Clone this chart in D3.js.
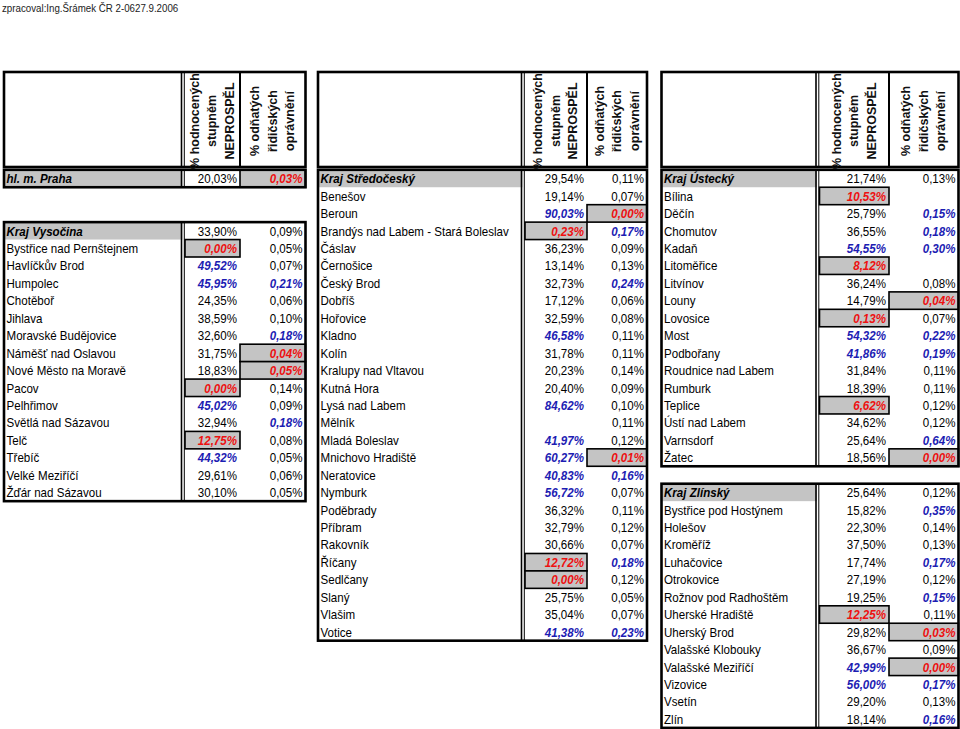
<!DOCTYPE html>
<html>
<head>
<meta charset="utf-8">
<script src="https://cdn.jsdelivr.net/npm/d3@7"></script>
<style>
  html, body { margin: 0; padding: 0; background: #fff; }
  svg { display: block; font-family: "Liberation Sans", Arial, sans-serif; }
</style>
</head>
<body>
<svg id="chart" width="960" height="729"></svg>
<script>
// ---------------- DATA ----------------
const note = "zpracoval:Ing.Šrámek ČR 2-0627.9.2006";
const headerCol1 = ["% hodnocených", "stupněm", "NEPROSPĚL"];
const headerCol2 = ["% odňatých", "řidičských", "oprávnění"];

const regions = ["hl. m. Praha", "Kraj Vysočina", "Kraj Středočeský", "Kraj Ústecký", "Kraj Zlínský"];
const regionP1 = [20.03, 33.90, 29.54, 21.74, 25.64];
const regionP2 = [0.03, 0.09, 0.11, 0.13, 0.12];
const regionFlag1 = ["", "", "", "", ""];
const regionFlag2 = ["L", "", "", "", ""];

const vysocinaCities = ["Bystřice nad Pernštejnem", "Havlíčkův Brod", "Humpolec", "Chotěboř", "Jihlava",
  "Moravské Budějovice", "Náměšť nad Oslavou", "Nové Město na Moravě", "Pacov", "Pelhřimov",
  "Světlá nad Sázavou", "Telč", "Třebíč", "Velké Meziříčí", "Žďár nad Sázavou"];
const vysocinaP1 = [0.00, 49.52, 45.95, 24.35, 38.59, 32.60, 31.75, 18.83, 0.00, 45.02, 32.94, 12.75, 44.32, 29.61, 30.10];
const vysocinaP2 = [0.05, 0.07, 0.21, 0.06, 0.10, 0.18, 0.04, 0.05, 0.14, 0.09, 0.18, 0.08, 0.05, 0.06, 0.05];
const vysocinaFlag1 = ["L", "H", "H", "", "", "", "", "", "L", "H", "", "L", "H", "", ""];
const vysocinaFlag2 = ["", "", "H", "", "", "H", "L", "L", "", "", "H", "", "", "", ""];

const stredoceskyCities = ["Benešov", "Beroun", "Brandýs nad Labem - Stará Boleslav", "Čáslav", "Černošice",
  "Český Brod", "Dobříš", "Hořovice", "Kladno", "Kolín", "Kralupy nad Vltavou", "Kutná Hora",
  "Lysá nad Labem", "Mělník", "Mladá Boleslav", "Mnichovo Hradiště", "Neratovice", "Nymburk",
  "Poděbrady", "Příbram", "Rakovník", "Říčany", "Sedlčany", "Slaný", "Vlašim", "Votice"];
const stredoceskyP1 = [19.14, 90.03, 0.23, 36.23, 13.14, 32.73, 17.12, 32.59, 46.58, 31.78, 20.23, 20.40,
  84.62, null, 41.97, 60.27, 40.83, 56.72, 36.32, 32.79, 30.66, 12.72, 0.00, 25.75, 35.04, 41.38];
const stredoceskyP2 = [0.07, 0.00, 0.17, 0.09, 0.13, 0.24, 0.06, 0.08, 0.11, 0.11, 0.14, 0.09,
  0.10, 0.11, 0.12, 0.01, 0.16, 0.07, 0.11, 0.12, 0.07, 0.18, 0.12, 0.05, 0.07, 0.23];
const stredoceskyFlag1 = ["", "H", "L", "", "", "", "", "", "H", "", "", "", "H", "", "H", "H", "H", "H", "", "", "", "L", "L", "", "", "H"];
const stredoceskyFlag2 = ["", "L", "H", "", "", "H", "", "", "", "", "", "", "", "", "", "L", "H", "", "", "", "", "H", "", "", "", "H"];

const usteckyCities = ["Bílina", "Děčín", "Chomutov", "Kadaň", "Litoměřice", "Litvínov", "Louny", "Lovosice",
  "Most", "Podbořany", "Roudnice nad Labem", "Rumburk", "Teplice", "Ústí nad Labem", "Varnsdorf", "Žatec"];
const usteckyP1 = [10.53, 25.79, 36.55, 54.55, 8.12, 36.24, 14.79, 0.13, 54.32, 41.86, 31.84, 18.39, 6.62, 34.62, 25.64, 18.56];
const usteckyP2 = [null, 0.15, 0.18, 0.30, null, 0.08, 0.04, 0.07, 0.22, 0.19, 0.11, 0.11, 0.12, 0.12, 0.64, 0.00];
const usteckyFlag1 = ["L", "", "", "H", "L", "", "", "L", "H", "H", "", "", "L", "", "", ""];
const usteckyFlag2 = ["", "H", "H", "H", "", "", "L", "", "H", "H", "", "", "", "", "H", "L"];

const zlinskyCities = ["Bystřice pod Hostýnem", "Holešov", "Kroměříž", "Luhačovice", "Otrokovice",
  "Rožnov pod Radhoštěm", "Uherské Hradiště", "Uherský Brod", "Valašské Klobouky", "Valašské Meziříčí",
  "Vizovice", "Vsetín", "Zlín"];
const zlinskyP1 = [15.82, 22.30, 37.50, 17.74, 27.19, 19.25, 12.25, 29.82, 36.67, 42.99, 56.00, 29.20, 18.14];
const zlinskyP2 = [0.35, 0.14, 0.13, 0.17, 0.12, 0.15, 0.11, 0.03, 0.09, 0.00, 0.17, 0.13, 0.16];
const zlinskyFlag1 = ["", "", "", "", "", "", "L", "", "", "H", "H", "", ""];
const zlinskyFlag2 = ["H", "", "", "H", "", "H", "", "L", "", "L", "H", "", "H"];

// ---------------- LAYOUT ----------------
const svg = d3.select("#chart");
const nRows = 32;
const rowY = d3.scaleLinear().domain([0, nRows]).range([169.8, 169.8 + nRows * 17.44]);
const RH = rowY(1) - rowY(0);
const headerTop = 72, headerBottom = 167;

// block column edges: [left, name|col1, col1|col2, right]
const blocks = [
  { edges: [4, 182.5, 240, 305.5] },
  { edges: [318, 522.5, 587, 647] },
  { edges: [661.5, 817, 889, 958.5] }
];

const fmt = v => v == null ? "" : d3.format(".2f")(v).replace(".", ",") + "%";
const GRAY = "#c4c4c4", RED = "#ee1111", BLUE = "#1d1db3", FONT = 13, SX = 0.89;

// note
svg.append("text").attr("transform", "translate(2,11.5) scale(0.91,1)")
  .attr("font-size", 10.7).attr("fill", "#222").text(note);

// headers
blocks.forEach(b => {
  const [x0, x1, x2, x3] = b.edges;
  const g = svg.append("g");
  g.append("rect").attr("x", x0).attr("y", headerTop).attr("width", x3 - x0).attr("height", headerBottom - headerTop)
    .attr("fill", "#fff").attr("stroke", "#000").attr("stroke-width", 2.6);
  g.append("line").attr("x1", x1 - 1).attr("x2", x1 - 1).attr("y1", headerTop).attr("y2", headerBottom).attr("stroke", "#000").attr("stroke-width", 1.6);
  g.append("line").attr("x1", x1 + 1.8).attr("x2", x1 + 1.8).attr("y1", headerTop).attr("y2", headerBottom).attr("stroke", "#000").attr("stroke-width", 1);
  g.append("line").attr("x1", x2).attr("x2", x2).attr("y1", headerTop).attr("y2", headerBottom).attr("stroke", "#000").attr("stroke-width", 2);
  const cy = 121;
  [[headerCol1, (x1 + 2 + x2) / 2], [headerCol2, (x2 + x3) / 2]].forEach(([lines, cx]) => {
    lines.forEach((t, i) => {
      const lx = cx + (i - 1) * 17.5;
      g.append("text")
        .attr("transform", `translate(${lx},${cy}) rotate(-90)`)
        .attr("text-anchor", "middle").attr("dominant-baseline", "central")
        .attr("font-size", 12.5).attr("font-weight", "bold").attr("fill", "#111").text(t);
    });
  });
});

function makeRows(title, ri, names, p1, p2, f1, f2) {
  const rows = [{ name: title, p1: regionP1[ri], p2: regionP2[ri], f1: regionFlag1[ri], f2: regionFlag2[ri], head: true }];
  (names || []).forEach((n, i) => rows.push({ name: n, p1: p1[i], p2: p2[i], f1: f1[i], f2: f2[i], head: false }));
  return rows;
}

const sections = [
  { block: 0, start: 0, rows: makeRows(regions[0], 0) },
  { block: 0, start: 3, rows: makeRows(regions[1], 1, vysocinaCities, vysocinaP1, vysocinaP2, vysocinaFlag1, vysocinaFlag2) },
  { block: 1, start: 0, rows: makeRows(regions[2], 2, stredoceskyCities, stredoceskyP1, stredoceskyP2, stredoceskyFlag1, stredoceskyFlag2) },
  { block: 2, start: 0, rows: makeRows(regions[3], 3, usteckyCities, usteckyP1, usteckyP2, usteckyFlag1, usteckyFlag2) },
  { block: 2, start: 18, rows: makeRows(regions[4], 4, zlinskyCities, zlinskyP1, zlinskyP2, zlinskyFlag1, zlinskyFlag2) }
];

// sections
sections.forEach(sec => {
  const [x0, x1, x2, x3] = blocks[sec.block].edges;
  const g = svg.append("g");
  const yTop = rowY(sec.start), yBot = rowY(sec.start + sec.rows.length);

  sec.rows.forEach((r, i) => {
    const y = rowY(sec.start + i);
    if (r.head) {
      g.append("rect").attr("x", x0).attr("y", y).attr("width", x1 - x0).attr("height", RH).attr("fill", GRAY);
    }
    [[r.f1, x1 + 2.5, x2], [r.f2, x2, x3]].forEach(([f, cl, cr]) => {
      if (f === "L") {
        g.append("rect").attr("x", cl).attr("y", y).attr("width", cr - cl).attr("height", RH)
          .attr("fill", GRAY).attr("stroke", "#000").attr("stroke-width", 1.6);
      }
    });
  });

  g.append("rect").attr("x", x0).attr("y", yTop).attr("width", x3 - x0).attr("height", yBot - yTop)
    .attr("fill", "none").attr("stroke", "#000").attr("stroke-width", 2.6);
  g.append("line").attr("x1", x1 - 1).attr("x2", x1 - 1).attr("y1", yTop).attr("y2", yBot).attr("stroke", "#000").attr("stroke-width", 1.6);
  g.append("line").attr("x1", x1 + 1.8).attr("x2", x1 + 1.8).attr("y1", yTop).attr("y2", yBot).attr("stroke", "#000").attr("stroke-width", 1);

  sec.rows.forEach((r, i) => {
    const yc = rowY(sec.start + i) + RH / 2 + 0.5;
    g.append("text").attr("transform", `translate(${x0 + 2.5},${yc}) scale(${SX},1)`)
      .attr("dominant-baseline", "central")
      .attr("font-size", FONT).attr("fill", "#000")
      .attr("font-weight", r.head ? "bold" : "normal").attr("font-style", r.head ? "italic" : "normal")
      .text(r.name);
    [[r.p1, r.f1, x2], [r.p2, r.f2, x3]].forEach(([v, f, cr]) => {
      const special = f === "L" || f === "H";
      g.append("text").attr("transform", `translate(${cr - 3},${yc}) scale(${SX},1)`)
        .attr("dominant-baseline", "central")
        .attr("text-anchor", "end").attr("font-size", FONT)
        .attr("font-weight", special ? "bold" : "normal").attr("font-style", special ? "italic" : "normal")
        .attr("fill", f === "L" ? RED : f === "H" ? BLUE : "#000")
        .text(fmt(v));
    });
  });
});
</script>
</body>
</html>
